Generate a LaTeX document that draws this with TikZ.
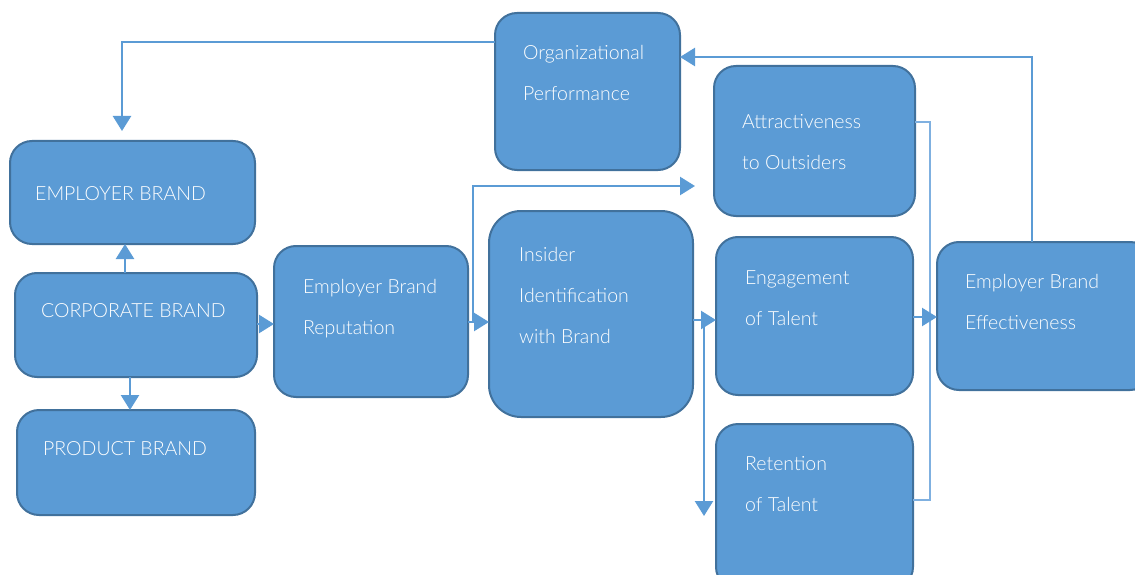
\documentclass[tikz,border=0pt]{standalone}
\usepackage{fontspec}
\setmainfont{Lato}[UprightFont=* Light]
\usetikzlibrary{arrows.meta,calc}
\definecolor{boxfill}{HTML}{5B9BD5}
\definecolor{boxline}{HTML}{41719C}
\definecolor{thinline}{HTML}{7FB0E0}
\tikzset{
  box/.style={draw=boxline, fill=boxfill, line width=2pt, rounded corners=22pt,
    anchor=north west, inner sep=0pt, outer sep=0pt},
  txt/.style={text=white, font=\fontsize{19.5}{41}\selectfont, align=left, anchor=base west, inner sep=0pt},
  arr/.style={draw=boxfill, line width=2.4pt, -{Triangle[width=18pt,length=15pt]}},
  thinconn/.style={draw=thinline, line width=1.2pt}
}
\begin{document}
\begin{tikzpicture}[x=1pt,y=-1pt]
\useasboundingbox (0,0) rectangle (1135,575);
% boxes
\node[box, minimum width=185pt, minimum height=157pt] (org) at (495,13) {};
\node[box, minimum width=201pt, minimum height=150pt] (attr) at (714,66) {};
\node[box, minimum width=245pt, minimum height=103pt] (eb) at (10,141) {};
\node[box, minimum width=242pt, minimum height=104pt] (cb) at (15,273) {};
\node[box, minimum width=238pt, minimum height=105pt] (pb) at (17,410) {};
\node[box, minimum width=194pt, minimum height=151pt] (rep) at (274,246) {};
\node[box, minimum width=204pt, minimum height=206pt, rounded corners=32pt] (ins) at (489,211) {};
\node[box, minimum width=197pt, minimum height=158pt] (eng) at (716,237) {};
\node[box, minimum width=197pt, minimum height=165pt] (ret) at (716,424) {};
\node[box, minimum width=215pt, minimum height=148pt] (ebe) at (937,242) {};
% texts (anchor = baseline of the last line)
\node[txt] (orgT) at (523,101) {Organizational\\Performance};
\node[txt] (attrT) at (742,169) {Attractiveness\\to Outsiders};
\node[txt] (ebT) at (35,200) {EMPLOYER BRAND};
\node[txt] (cbT) at (41,317) {CORPORATE BRAND};
\node[txt] (pbT) at (43,455) {PRODUCT BRAND};
\node[txt] (repT) at (303,334) {Employer Brand\\Reputation};
\node[txt] (insT) at (519,343) {Insider\\Identification\\with Brand};
\node[txt] (engT) at (745,325) {Engagement\\of Talent};
\node[txt] (retT) at (745,511) {Retention\\of Talent};
\node[txt] (ebeT) at (965,329) {Employer Brand\\Effectiveness};
% connectors
\coordinate (ebIn) at (122,131);
\draw[arr] (org.west |- 0,42) -| (ebIn);
\coordinate (ebeUp) at (1032,242);
\draw[arr] (ebeUp) |- (org.east |- 0,57);
\draw[arr] (cb.north -| 125,0) -- (eb.south -| 125,0);
\draw[arr] (cb.south -| 130,0) -- (pb.north -| 130,0);
\draw[arr] (cb.east |- 0,324) -- (rep.west |- 0,324);
\draw[arr] (rep.east |- 0,322) -- (ins.west |- 0,322);
\coordinate (splitA) at (473,322);
\coordinate (attrIn) at (695,186);
\draw[arr] (splitA) |- (attrIn);
\draw[arr] (ins.east |- 0,320) -- (eng.west |- 0,320);
\coordinate (splitB) at (704,320);
\coordinate (retIn) at (704,516);
\draw[arr] (splitB) -- (retIn);
\coordinate (brk) at (930,500);
\draw[thinconn] (attr.east |- 0,122) -| (brk) -- (ret.east |- brk);
\draw[arr] (eng.east |- 0,317) -- (ebe.west |- 0,317);
\end{tikzpicture}
\end{document}
